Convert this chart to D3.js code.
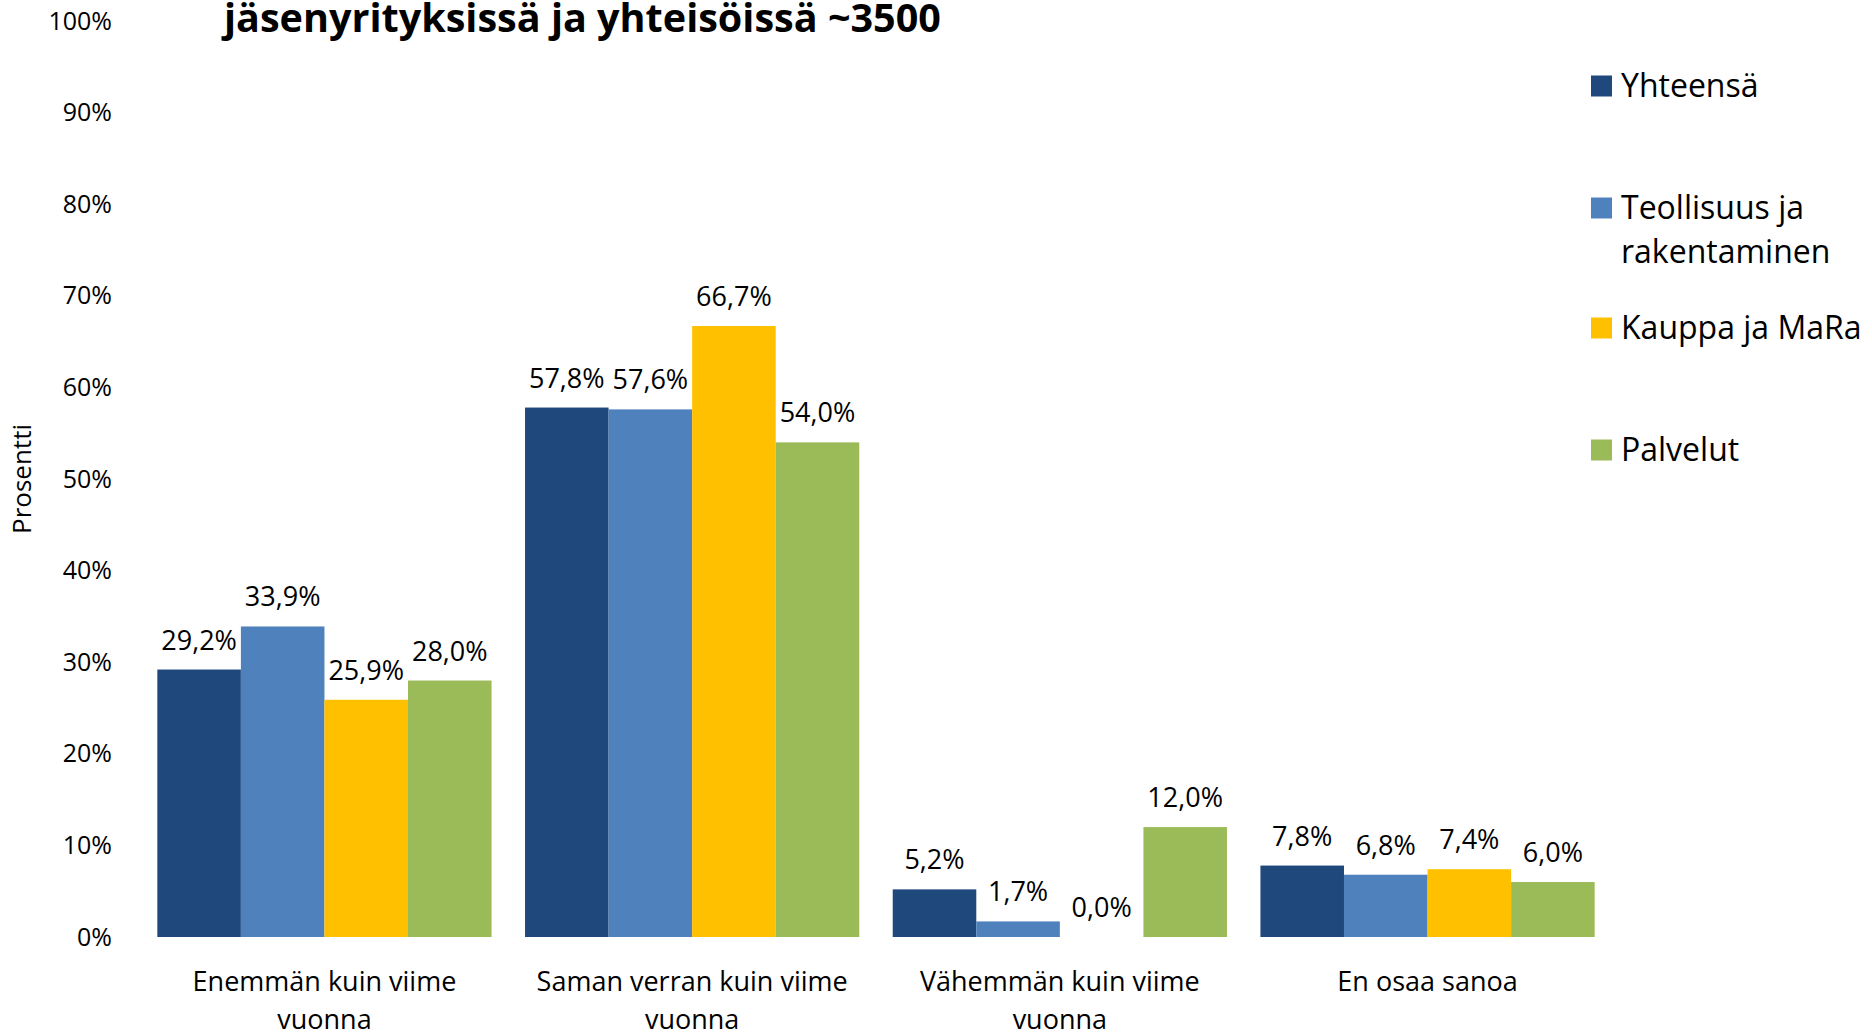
<!DOCTYPE html>
<html>
<head>
<meta charset="utf-8">
<script src="https://cdn.jsdelivr.net/npm/d3@7"></script>
<style>
  html, body { margin: 0; padding: 0; background: #fff; }
  svg { display: block; font-family: "Open Sans", sans-serif; }
</style>
</head>
<body>
<svg id="chart" width="1872" height="1032"></svg>
<script>
// Chart data
const categories = [
  'Enemmän kuin viime vuonna',
  'Saman verran kuin viime vuonna',
  'Vähemmän kuin viime vuonna',
  'En osaa sanoa'
];
const categoryLines = [
  ['Enemmän kuin viime', 'vuonna'],
  ['Saman verran kuin viime', 'vuonna'],
  ['Vähemmän kuin viime', 'vuonna'],
  ['En osaa sanoa']
];
const seriesNames = ['Yhteensä', 'Teollisuus ja rakentaminen', 'Kauppa ja MaRa', 'Palvelut'];
const legendLines = [['Yhteensä'], ['Teollisuus ja', 'rakentaminen'], ['Kauppa ja MaRa'], ['Palvelut']];
const seriesColors = ['#1F497D', '#4F81BD', '#FFC000', '#9BBB59'];
const yhteensa = [29.2, 57.8, 5.2, 7.8];
const teollisuus = [33.9, 57.6, 1.7, 6.8];
const kauppa = [25.9, 66.7, 0.0, 7.4];
const palvelut = [28.0, 54.0, 12.0, 6.0];
const yTicks = [0, 10, 20, 30, 40, 50, 60, 70, 80, 90, 100];
const titleText = 'jäsenyrityksissä ja yhteisöissä ~3500';
const yTitle = 'Prosentti';

const seriesValues = [yhteensa, teollisuus, kauppa, palvelut];

const svg = d3.select('#chart');

// Scales
const x0 = d3.scaleBand()
  .domain(categories)
  .range([140.6, 1611.4])
  .paddingInner(0.091)
  .paddingOuter(0.0455);

const x1 = d3.scaleBand()
  .domain(seriesNames)
  .range([0, x0.bandwidth()]);

const y = d3.scaleLinear()
  .domain([0, 100])
  .range([937, 21]);

const fmt = (v) => v.toFixed(1).replace('.', ',') + '%';

// Y axis labels (no line, no ticks)
const yAxis = d3.axisLeft(y)
  .tickValues(yTicks)
  .tickSize(0)
  .tickPadding(0)
  .tickFormat((d) => d + '%');

const yG = svg.append('g')
  .attr('transform', 'translate(112,0)')
  .call(yAxis);
yG.select('.domain').remove();
yG.selectAll('text')
  .attr('font-family', '"Open Sans", sans-serif')
  .attr('font-size', 25)
  .attr('fill', '#000');

// Y axis title
svg.append('text')
  .attr('transform', 'translate(31,479) rotate(-90)')
  .attr('text-anchor', 'middle')
  .attr('font-size', 26)
  .attr('fill', '#000')
  .text(yTitle);

// Bars
const groups = svg.append('g')
  .selectAll('g')
  .data(categories)
  .join('g')
  .attr('transform', (d) => `translate(${x0(d)},0)`);

groups.selectAll('rect')
  .data((d, i) => seriesNames.map((s, j) => ({ s, j, v: seriesValues[j][i] })))
  .join('rect')
  .attr('x', (d) => x1(d.s))
  .attr('y', (d) => y(d.v))
  .attr('width', x1.bandwidth())
  .attr('height', (d) => y(0) - y(d.v))
  .attr('fill', (d) => seriesColors[d.j]);

// Data labels
groups.selectAll('text')
  .data((d, i) => seriesNames.map((s, j) => ({ s, j, v: seriesValues[j][i] })))
  .join('text')
  .attr('x', (d) => x1(d.s) + x1.bandwidth() / 2)
  .attr('y', (d) => y(d.v) - 20)
  .attr('text-anchor', 'middle')
  .attr('font-size', 27)
  .attr('fill', '#000')
  .text((d) => fmt(d.v));

// Category labels
const catG = svg.append('g');
categories.forEach((c, i) => {
  const t = catG.append('text')
    .attr('x', x0(c) + x0.bandwidth() / 2)
    .attr('y', 991)
    .attr('text-anchor', 'middle')
    .attr('font-size', 27)
    .attr('fill', '#000');
  categoryLines[i].forEach((line, k) => {
    t.append('tspan')
      .attr('x', x0(c) + x0.bandwidth() / 2)
      .attr('dy', k === 0 ? 0 : 38)
      .text(line);
  });
});

// Legend
const legendY = [86, 208, 328, 450];
const legend = svg.append('g');
seriesNames.forEach((s, i) => {
  legend.append('rect')
    .attr('x', 1591)
    .attr('y', legendY[i] - 10.5)
    .attr('width', 21)
    .attr('height', 21)
    .attr('fill', seriesColors[i]);
  const t = legend.append('text')
    .attr('x', 1621)
    .attr('y', legendY[i] + 11)
    .attr('font-size', 32)
    .attr('fill', '#000');
  legendLines[i].forEach((line, k) => {
    t.append('tspan')
      .attr('x', 1621)
      .attr('dy', k === 0 ? 0 : 44)
      .text(line);
  });
});

// Title (only the second line is visible in the frame)
const title = svg.append('text')
  .attr('x', 224)
  .attr('y', 32)
  .attr('font-size', 36)
  .attr('font-weight', 'bold')
  .attr('fill', '#000')
  .text(titleText);
// fit the title width to the original
const tw = title.node().getComputedTextLength();
title.attr('font-size', 36 * 717 / tw);
</script>
</body>
</html>
